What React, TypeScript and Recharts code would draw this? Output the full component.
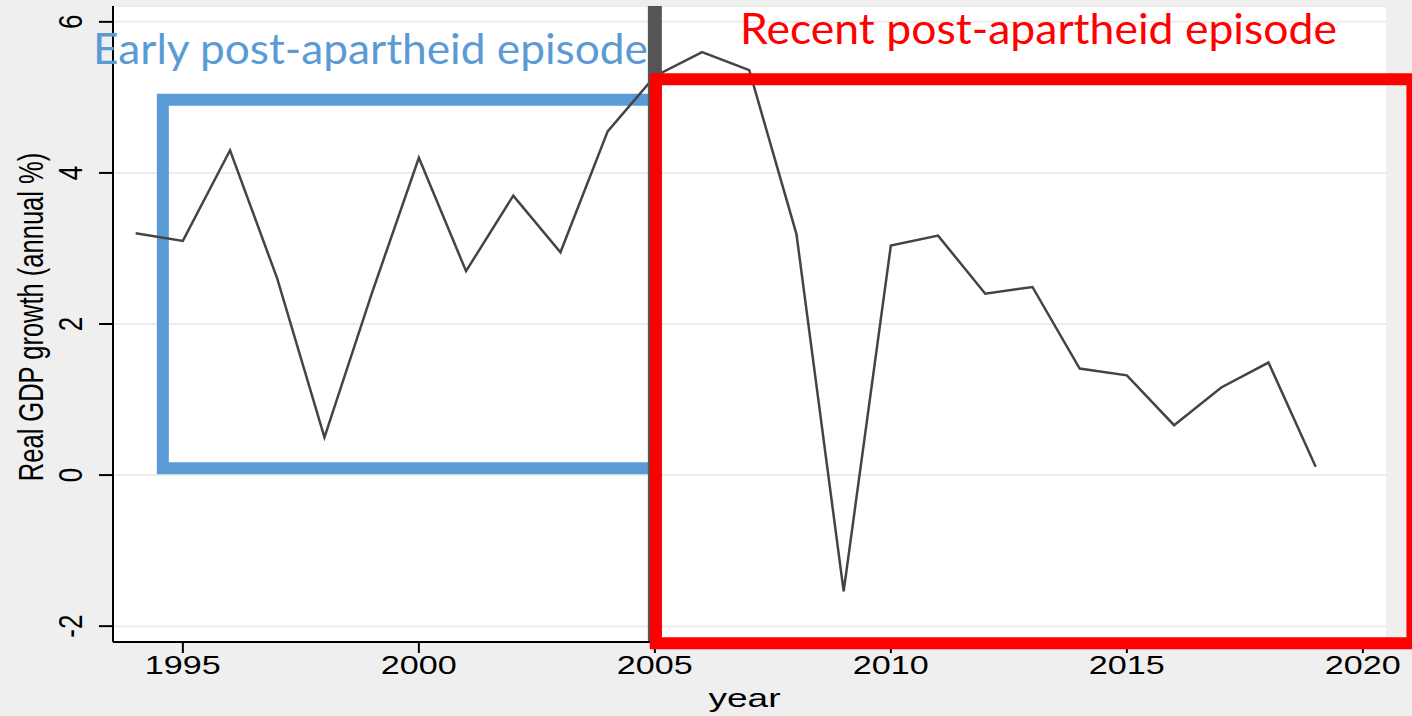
import React from 'react';
import {
  LineChart,
  Line,
  XAxis,
  YAxis,
  CartesianGrid,
  ReferenceArea,
  ReferenceLine,
} from 'recharts';

// South Africa, real GDP growth (annual %)
const years = [
  1994, 1995, 1996, 1997, 1998, 1999, 2000, 2001, 2002, 2003, 2004, 2005, 2006,
  2007, 2008, 2009, 2010, 2011, 2012, 2013, 2014, 2015, 2016, 2017, 2018, 2019,
];
const growth = [
  3.2, 3.1, 4.3, 2.6, 0.5, 2.4, 4.2, 2.7, 3.7, 2.95, 4.55, 5.28, 5.6,
  5.36, 3.19, -1.54, 3.04, 3.17, 2.4, 2.49, 1.41, 1.32, 0.66, 1.16, 1.49, 0.11,
];
const xTicks = [1995, 2000, 2005, 2010, 2015, 2020];
const yTicks = [-2, 0, 2, 4, 6];

// the two episode boxes and the split year
const splitYear = 2005;
const earlyBox = { x1: 1994.576, x2: 2005, y1: 0.09, y2: 4.97 };
const recentBox = { x1: 2005.02, x2: 2021.05, y1: -2.225, y2: 5.24 };

const data = years.map((year, i) => ({ year, growth: growth[i] }));

const AXIS_FONT = '"Liberation Sans", Arial, sans-serif';
const NOTE_FONT = 'Lato, "Open Sans", sans-serif';

const XTick = (props: any) => {
  const { x, y, payload } = props;
  return (
    <text
      x={x}
      y={y + 19}
      textAnchor="middle"
      fontFamily={AXIS_FONT}
      fontSize={26}
      fill="#000"
      textLength={76}
      lengthAdjust="spacingAndGlyphs"
    >
      {payload.value}
    </text>
  );
};

const YTick = (props: any) => {
  const { x, y, payload } = props;
  return (
    <text
      transform={`translate(${x},${y}) scale(1.3,1) rotate(-90)`}
      textAnchor="middle"
      fontFamily={AXIS_FONT}
      fontSize={26}
      fill="#000"
    >
      {payload.value}
    </text>
  );
};

const YLabel = (props: any) => {
  const { viewBox } = props;
  const cy = viewBox.y + viewBox.height / 2 - 7;
  return (
    <text
      transform={`translate(43,${cy}) scale(1.4,1) rotate(-90)`}
      textAnchor="middle"
      fontFamily={AXIS_FONT}
      fontSize={25.5}
      fill="#000"
    >
      Real GDP growth (annual %)
    </text>
  );
};

const XLabel = (props: any) => {
  const { viewBox } = props;
  const cx = viewBox.x + viewBox.width / 2 - 5;
  return (
    <text
      x={cx}
      y={707}
      textAnchor="middle"
      fontFamily={AXIS_FONT}
      fontSize={26}
      fill="#000"
      textLength={72}
      lengthAdjust="spacingAndGlyphs"
    >
      year
    </text>
  );
};

export default function App() {
  return (
    <div
      style={{
        position: 'absolute',
        left: 0,
        top: 0,
        width: 1412,
        height: 716,
        background: '#efefef',
        overflow: 'hidden',
      }}
    >
      <LineChart
        width={1412}
        height={716}
        data={data}
        margin={{ top: 6, right: 26, left: 0, bottom: 0 }}
      >
        <CartesianGrid vertical={false} fill="#fff" stroke="#ececec" strokeWidth={2} />
        <XAxis
          dataKey="year"
          type="number"
          domain={[1993.52, 2020.49]}
          ticks={xTicks}
          allowDataOverflow
          height={74}
          axisLine={{ stroke: '#000', strokeWidth: 2 }}
          tickLine={{ stroke: '#000', strokeWidth: 2 }}
          tickSize={11}
          tick={<XTick />}
          label={<XLabel />}
        />
        <YAxis
          type="number"
          domain={[-2.21, 6.21]}
          ticks={yTicks}
          allowDataOverflow
          width={113}
          axisLine={{ stroke: '#000', strokeWidth: 2 }}
          tickLine={{ stroke: '#000', strokeWidth: 2 }}
          tickSize={14}
          tickMargin={17}
          tick={<YTick />}
          label={<YLabel />}
        />
        <ReferenceArea
          x1={earlyBox.x1}
          x2={earlyBox.x2}
          y1={earlyBox.y1}
          y2={earlyBox.y2}
          fill="none"
          fillOpacity={0}
          stroke="#5b9bd5"
          strokeWidth={12}
          ifOverflow="visible"
        />
        <Line
          type="linear"
          dataKey="growth"
          stroke="#444"
          strokeWidth={2.5}
          dot={false}
          isAnimationActive={false}
        />
        <ReferenceLine x={splitYear} stroke="#555" strokeWidth={14} />
        <ReferenceArea
          x1={recentBox.x1}
          x2={recentBox.x2}
          y1={recentBox.y1}
          y2={recentBox.y2}
          fill="none"
          fillOpacity={0}
          stroke="#ff0000"
          strokeWidth={12}
          ifOverflow="visible"
          zIndex={3000}
        />
      </LineChart>
      <svg
        width={1412}
        height={716}
        style={{ position: 'absolute', left: 0, top: 0, pointerEvents: 'none' }}
      >
        <text
          x={93}
          y={64}
          fontFamily={NOTE_FONT}
          fontSize={43}
          fill="#5b9bd5"
          textLength={555}
          lengthAdjust="spacingAndGlyphs"
        >
          Early post-apartheid episode
        </text>
        <text
          x={740}
          y={44}
          fontFamily={NOTE_FONT}
          fontSize={42}
          fill="#ff0000"
          textLength={597}
          lengthAdjust="spacingAndGlyphs"
        >
          Recent post-apartheid episode
        </text>
      </svg>
    </div>
  );
}
